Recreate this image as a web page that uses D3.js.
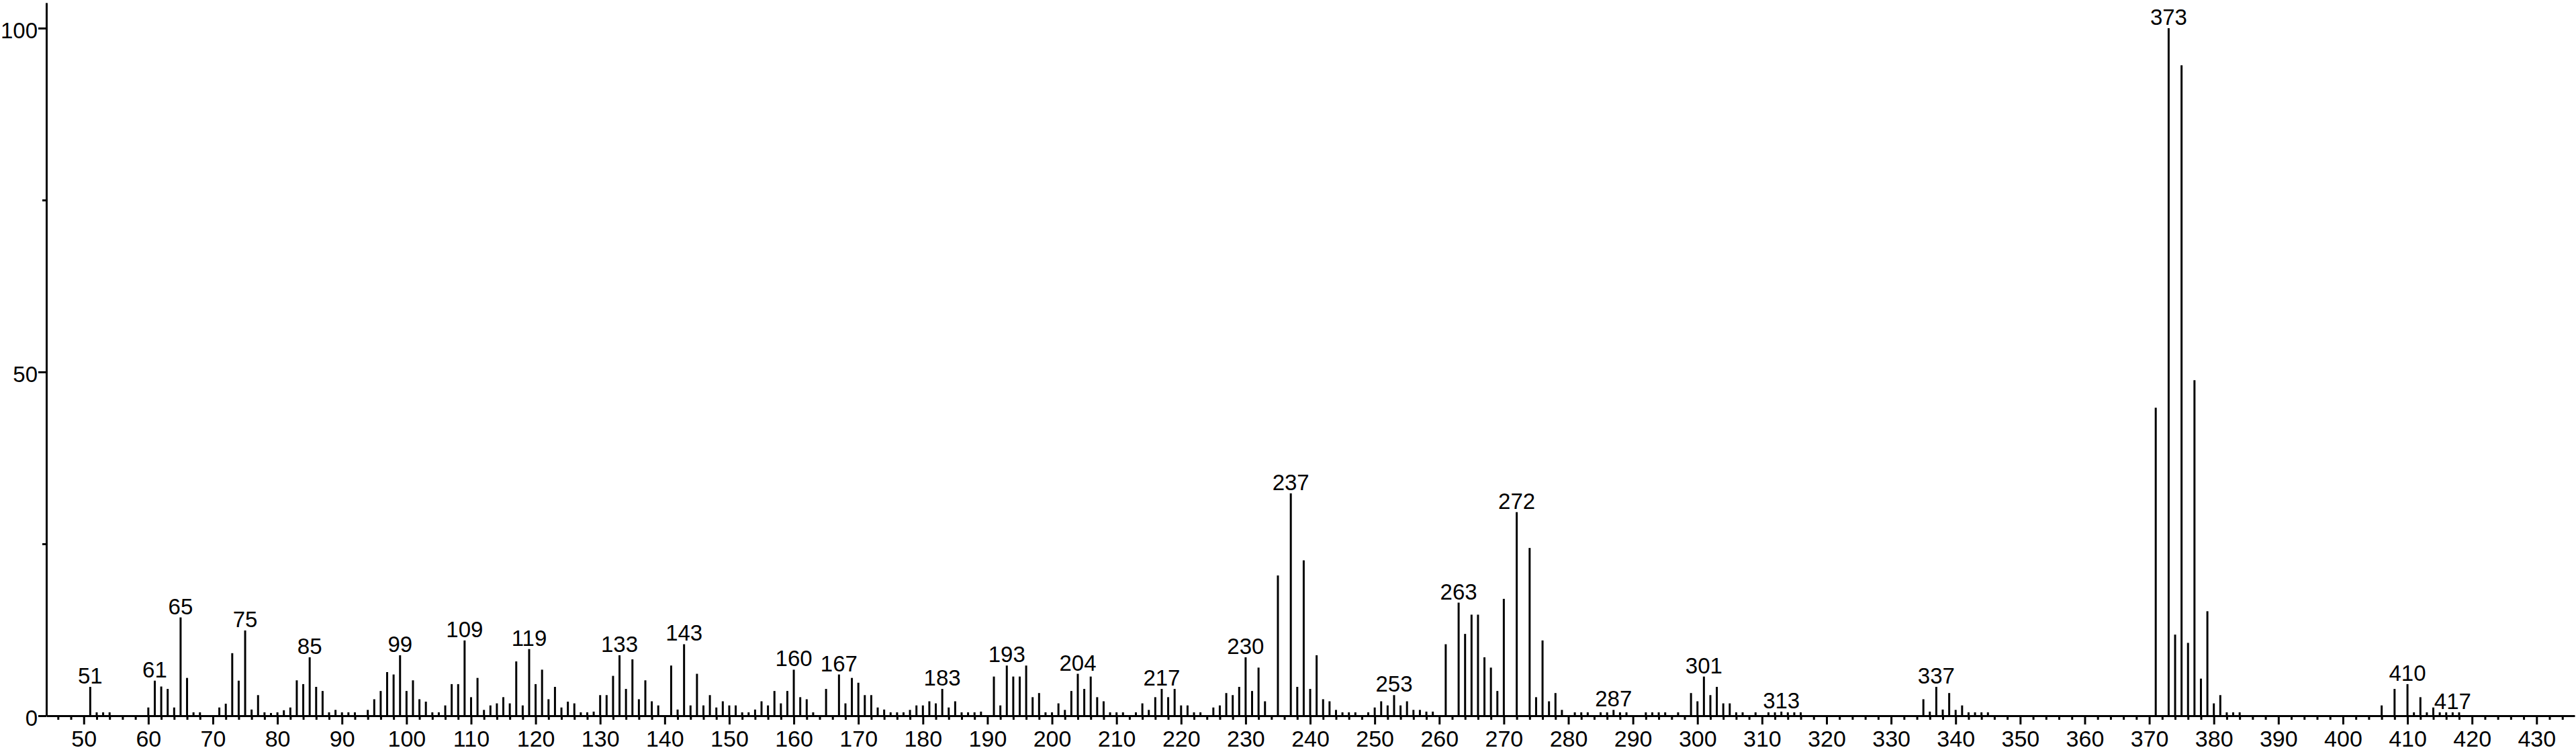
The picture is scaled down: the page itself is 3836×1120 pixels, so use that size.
<!DOCTYPE html>
<html>
<head>
<meta charset="utf-8">
<script src="https://cdn.jsdelivr.net/npm/d3@7"></script>
<style>
  html, body { margin: 0; padding: 0; background: #fff; }
  svg { display: block; }
</style>
</head>
<body>
<svg id="chart" width="3836" height="1120"></svg>
<script>
// m/z values and relative intensities (%)
const mz = [
  51,52,53,54,60,61,62,63,64,65,66,67,68,71,72,73,74,75,76,77,78,79,80,81,82,83,84,85,86,87,88,89,90,91,92,
  94,95,96,97,98,99,100,101,102,103,104,105,106,107,108,109,110,111,112,113,114,115,116,117,118,119,120,
  121,122,123,124,125,126,127,128,129,130,131,132,133,134,135,136,137,138,139,141,142,143,144,145,146,147,148,149,150,
  151,152,153,154,155,156,157,158,159,160,161,162,163,165,167,168,169,170,171,172,173,174,175,176,177,178,179,180,
  181,182,183,184,185,186,187,188,189,191,192,193,194,195,196,197,198,199,200,201,202,203,204,205,206,207,208,209,210,
  211,213,214,215,216,217,218,219,220,221,222,223,225,226,227,228,229,230,231,232,233,235,237,238,239,240,
  241,242,243,244,245,246,247,249,250,251,252,253,254,255,256,257,258,259,261,263,264,265,266,267,268,269,270,
  272,274,275,276,277,278,279,281,282,283,285,286,287,288,289,292,293,294,295,297,299,300,
  301,302,303,304,305,306,307,309,311,312,313,314,315,316,335,336,337,338,339,340,341,342,343,344,345,
  371,373,374,375,376,377,378,379,380,381,382,383,384,406,408,410,411,412,413,414,415,416,417,418
];
const intensity = [
  4.2,0.5,0.5,0.5,1.2,5.1,4.25,3.9,1.2,14.3,5.5,0.5,0.5,1.2,1.75,9.1,5.1,12.4,0.9,3.0,0.5,0.4,0.5,0.8,1.2,5.15,4.6,8.5,4.2,3.6,0.5,0.85,0.5,0.5,0.5,
  0.85,2.4,3.6,6.35,6.0,8.8,3.6,5.15,2.4,2.05,0.5,0.5,1.5,4.6,4.6,10.95,2.7,5.5,0.85,1.5,1.8,2.7,1.8,7.9,1.5,9.7,4.6,
  6.7,2.4,4.2,1.2,2.05,1.8,0.5,0.5,0.6,3.0,3.0,5.8,8.8,3.9,8.2,2.4,5.15,2.1,1.5,7.3,0.9,10.4,1.5,6.1,1.5,3.0,1.2,2.1,1.5,
  1.5,0.5,0.5,0.9,2.1,1.5,3.6,1.8,3.6,6.7,2.7,2.4,0.5,3.9,6.0,1.8,5.5,4.8,3.0,3.0,1.2,0.9,0.5,0.5,0.5,0.85,1.5,1.5,
  2.1,1.8,3.9,1.2,2.1,0.5,0.5,0.5,0.6,5.7,1.5,7.3,5.7,5.7,7.3,2.7,3.3,0.5,0.5,1.8,0.85,3.6,6.1,3.9,5.7,2.7,2.1,0.5,0.5,
  0.5,0.5,1.8,0.85,2.7,3.9,2.7,3.9,1.5,1.5,0.5,0.5,1.2,1.5,3.3,3.0,4.2,8.5,3.6,7.0,2.1,20.4,32.35,4.2,22.6,3.9,
  8.8,2.4,2.1,0.85,0.5,0.5,0.5,0.5,1.2,2.1,1.5,3.0,1.5,2.1,0.85,0.85,0.6,0.6,10.4,16.45,11.9,14.7,14.7,8.5,7.0,3.6,17.0,
  29.6,24.4,2.7,10.95,2.1,3.3,0.85,0.5,0.5,0.5,0.5,0.5,0.85,0.5,0.5,0.5,0.5,0.5,0.5,0.5,3.3,2.1,
  5.7,3.0,4.2,1.8,1.8,0.5,0.5,0.5,0.5,0.5,0.6,0.5,0.5,0.5,2.4,0.6,4.2,0.9,3.3,0.85,1.5,0.5,0.5,0.5,0.5,
  44.8,100,11.8,94.6,10.6,48.8,5.4,15.2,1.8,3.0,0.5,0.5,0.5,1.5,3.9,4.6,0.5,2.7,0.5,1.2,0.5,0.5,0.5,0.5
];
// peaks carrying an m/z annotation
const labeledPeaks = [51,61,65,75,85,99,109,119,133,143,160,167,183,193,204,217,230,237,253,263,272,287,301,313,337,373,410,417];
// axis ticks
const xMajorTicks = d3.range(50, 431, 10);
const xMinorTicks = d3.range(46, 436, 2).filter(v => v % 10 !== 0);
const yMajorTicks = [0, 50, 100];
const yMinorTicks = [25, 75];

const data = mz.map((m, i) => ({ m, v: intensity[i] }));

const svg = d3.select("#chart");
const x = d3.scaleLinear().domain([44.2, 435.9]).range([69, 3834]);
const y = d3.scaleLinear().domain([0, 103.7]).range([1066, 4]);

const FONT = "'Liberation Sans', Arial, Helvetica, sans-serif";

// x axis: minor ticks
const gxMinor = svg.append("g").attr("transform", `translate(0,${y(0)})`)
  .call(d3.axisBottom(x).tickValues(xMinorTicks).tickSize(6).tickSizeOuter(0).tickFormat(""));
// x axis: major ticks with labels
const gx = svg.append("g").attr("transform", `translate(0,${y(0)})`)
  .call(d3.axisBottom(x).tickValues(xMajorTicks).tickSize(13).tickSizeOuter(0).tickPadding(9).tickFormat(d3.format("d")));

// y axis
const gyMinor = svg.append("g").attr("transform", `translate(${x.range()[0]},0)`)
  .call(d3.axisLeft(y).tickValues(yMinorTicks).tickSize(6).tickSizeOuter(0).tickFormat(""));
const gy = svg.append("g").attr("transform", `translate(${x.range()[0]},0)`)
  .call(d3.axisLeft(y).tickValues(yMajorTicks).tickSize(12).tickSizeOuter(0).tickPadding(1).tickFormat(d3.format("d")));

[gxMinor, gx, gyMinor, gy].forEach(g => {
  g.selectAll("path.domain").attr("stroke", "#000").attr("stroke-width", 3);
  g.selectAll(".tick line").attr("stroke", "#000").attr("stroke-width", 3);
  g.selectAll("text").attr("font-family", FONT).attr("fill", "#000");
});
gx.selectAll("text").attr("font-size", 34);
gy.selectAll("text").attr("font-size", 33).attr("dy", "0.45em");
gxMinor.select("path.domain").remove();
gyMinor.select("path.domain").remove();

// peaks
svg.append("g").selectAll("line.peak").data(data).join("line")
  .attr("class", "peak")
  .attr("x1", d => x(d.m)).attr("x2", d => x(d.m))
  .attr("y1", y(0)).attr("y2", d => y(d.v))
  .attr("stroke", "#000").attr("stroke-width", 3);

// peak labels
const labelData = data.filter(d => labeledPeaks.includes(d.m));
svg.append("g").selectAll("text.plabel").data(labelData).join("text")
  .attr("class", "plabel")
  .attr("x", d => x(d.m)).attr("y", d => y(d.v) - 5)
  .attr("text-anchor", "middle")
  .attr("font-family", FONT).attr("font-size", 33).attr("fill", "#000")
  .text(d => d.m);
</script>
</body>
</html>
